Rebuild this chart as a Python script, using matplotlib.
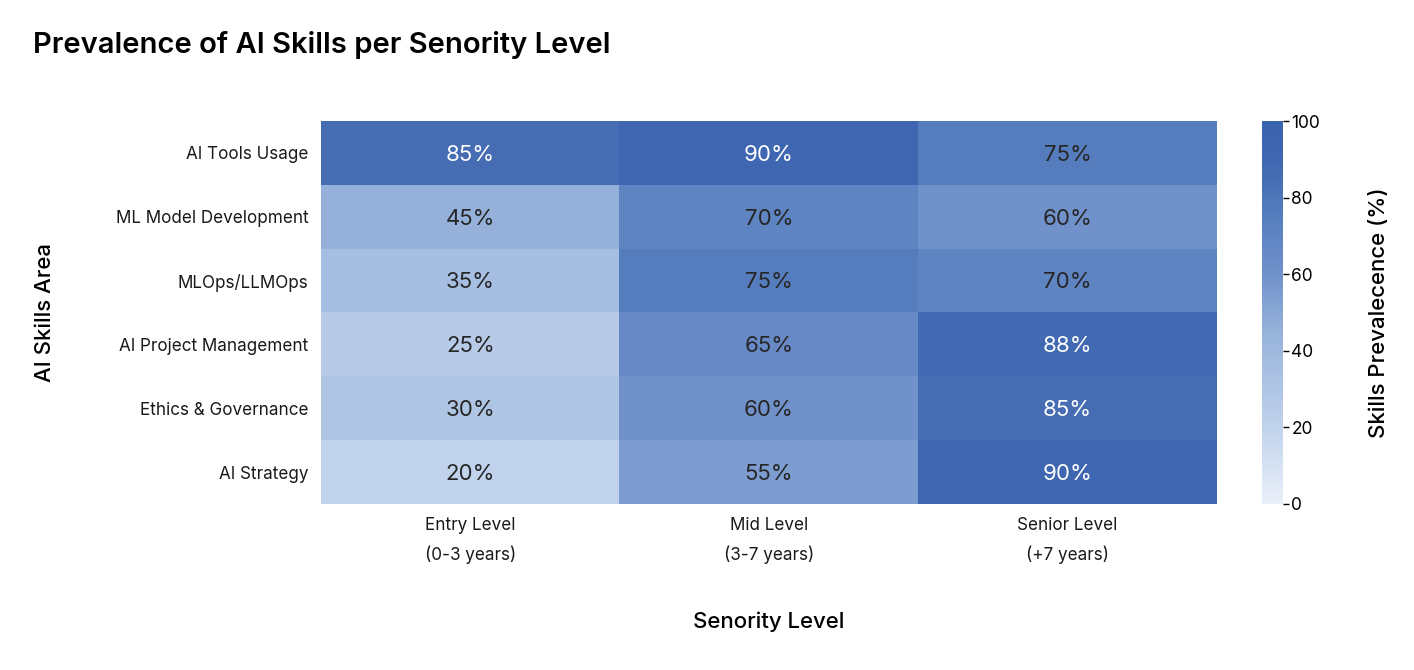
import matplotlib
matplotlib.use('Agg')
import matplotlib.pyplot as plt
from matplotlib.colors import LinearSegmentedColormap
import numpy as np

plt.rcParams['font.family'] = ['Inter', 'DejaVu Sans']

skills = ['AI Tools Usage', 'ML Model Development', 'MLOps/LLMOps',
          'AI Project Management', 'Ethics & Governance', 'AI Strategy']
levels = ['Entry Level\n(0-3 years)', 'Mid Level\n(3-7 years)', 'Senior Level\n(+7 years)']
entry = [85, 45, 35, 25, 30, 20]
mid = [90, 70, 75, 65, 60, 55]
senior = [75, 60, 70, 88, 85, 90]

data = np.array([entry, mid, senior]).T

cmap = LinearSegmentedColormap.from_list('blues', [
    (0.0, '#eaf0fa'), (0.2, '#c0d2ec'), (0.45, '#96b2da'), (0.6, '#7191cb'),
    (0.75, '#567ebe'), (0.85, '#476eb4'), (0.9, '#4068b2'), (1.0, '#3a63ae')])

fig = plt.figure(figsize=(14.14, 6.7), dpi=100)
ax = fig.add_axes([321 / 1414, 1 - 504 / 670, 896 / 1414, 383 / 670])
cax = fig.add_axes([1262 / 1414, 1 - 504 / 670, 21 / 1414, 383 / 670])

im = ax.imshow(data, cmap=cmap, vmin=0, vmax=100, aspect='auto')

for i in range(data.shape[0]):
    for j in range(data.shape[1]):
        v = data[i, j]
        ax.text(j, i + 0.03, f'{v}%', ha='center', va='center', fontsize=16,
                color='white' if v >= 80 else '#262626')

ax.set_xticks(range(len(levels)))
ax.set_xticklabels(levels, fontsize=12.3, linespacing=1.85, color='#1a1a1a')
ax.set_yticks(range(len(skills)))
ax.set_yticklabels(skills, fontsize=12.3, color='#1a1a1a')
ax.tick_params(length=0, pad=9)
for s in ax.spines.values():
    s.set_visible(False)

ax.set_xlabel('Senority Level', fontsize=16, fontweight='medium', labelpad=34)
ax.set_ylabel('AI Skills Area', fontsize=16, fontweight='medium', labelpad=44)

cb = fig.colorbar(im, cax=cax)
cb.outline.set_visible(False)
cb.set_ticks([0, 20, 40, 60, 80, 100])
cb.ax.tick_params(labelsize=12.5, length=4, width=1, pad=2)
cb.set_label('Skills Prevalecence (%)', fontsize=16, fontweight='medium', labelpad=35)

fig.text(33 / 1414, 1 - 45 / 670, 'Prevalence of AI Skills per Senority Level',
         fontsize=21, fontweight='semibold', va='center', ha='left')

fig.savefig('out.png', dpi=100)
